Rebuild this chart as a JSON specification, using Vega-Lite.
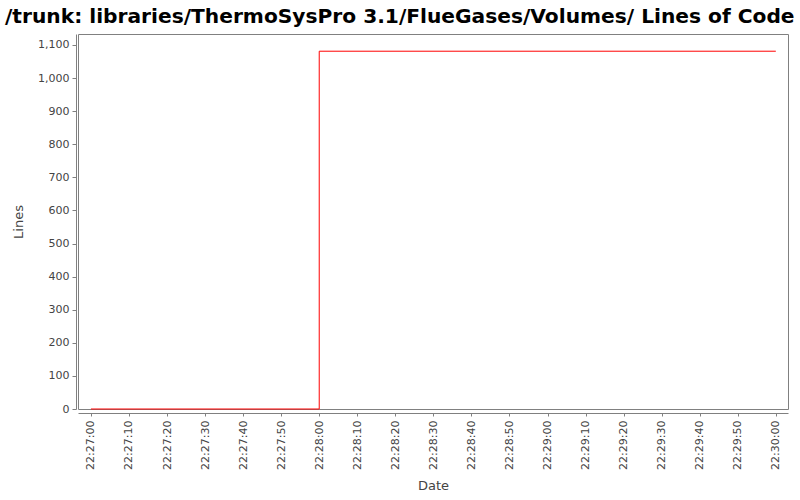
{
  "$schema": "https://vega.github.io/schema/vega-lite/v6.json",
  "autosize": "none",
  "width": 710,
  "height": 375,
  "padding": {"left": 78, "top": 34, "right": 12, "bottom": 91},
  "background": "white",
  "title": {
    "text": "/trunk: libraries/ThermoSysPro 3.1/FlueGases/Volumes/ Lines of Code",
    "font": "DejaVu Sans",
    "fontSize": 20.2,
    "fontWeight": "bold",
    "color": "#000000",
    "anchor": "start",
    "frame": "group",
    "dx": -73,
    "offset": 7
  },
  "config": {
    "view": {"stroke": "#808080", "strokeWidth": 1},
    "axis": {
      "grid": false,
      "domainColor": "#808080",
      "tickColor": "#808080",
      "labelColor": "#444444",
      "titleColor": "#444444",
      "labelFont": "DejaVu Sans",
      "titleFont": "DejaVu Sans",
      "labelFontSize": 11,
      "titleFontSize": 13,
      "titleFontWeight": "normal"
    }
  },
  "data": {
    "values": [
      {"date": "2000-01-01T22:27:00", "lines": 0},
      {"date": "2000-01-01T22:28:00", "lines": 1081},
      {"date": "2000-01-01T22:30:00", "lines": 1081}
    ]
  },
  "mark": {"type": "line", "interpolate": "step-after", "color": "#ff0000", "strokeWidth": 1},
  "encoding": {
    "x": {
      "field": "date",
      "type": "temporal",
      "scale": {
        "domain": [
          {"year": 2000, "month": 1, "date": 1, "hours": 22, "minutes": 26, "seconds": 56, "milliseconds": 600},
          {"year": 2000, "month": 1, "date": 1, "hours": 22, "minutes": 30, "seconds": 3, "milliseconds": 200}
        ],
        "nice": false
      },
      "axis": {
        "title": "Date",
        "format": "%H:%M:%S",
        "values": [
          {"year": 2000, "month": 1, "date": 1, "hours": 22, "minutes": 27, "seconds": 0},
          {"year": 2000, "month": 1, "date": 1, "hours": 22, "minutes": 27, "seconds": 10},
          {"year": 2000, "month": 1, "date": 1, "hours": 22, "minutes": 27, "seconds": 20},
          {"year": 2000, "month": 1, "date": 1, "hours": 22, "minutes": 27, "seconds": 30},
          {"year": 2000, "month": 1, "date": 1, "hours": 22, "minutes": 27, "seconds": 40},
          {"year": 2000, "month": 1, "date": 1, "hours": 22, "minutes": 27, "seconds": 50},
          {"year": 2000, "month": 1, "date": 1, "hours": 22, "minutes": 28, "seconds": 0},
          {"year": 2000, "month": 1, "date": 1, "hours": 22, "minutes": 28, "seconds": 10},
          {"year": 2000, "month": 1, "date": 1, "hours": 22, "minutes": 28, "seconds": 20},
          {"year": 2000, "month": 1, "date": 1, "hours": 22, "minutes": 28, "seconds": 30},
          {"year": 2000, "month": 1, "date": 1, "hours": 22, "minutes": 28, "seconds": 40},
          {"year": 2000, "month": 1, "date": 1, "hours": 22, "minutes": 28, "seconds": 50},
          {"year": 2000, "month": 1, "date": 1, "hours": 22, "minutes": 29, "seconds": 0},
          {"year": 2000, "month": 1, "date": 1, "hours": 22, "minutes": 29, "seconds": 10},
          {"year": 2000, "month": 1, "date": 1, "hours": 22, "minutes": 29, "seconds": 20},
          {"year": 2000, "month": 1, "date": 1, "hours": 22, "minutes": 29, "seconds": 30},
          {"year": 2000, "month": 1, "date": 1, "hours": 22, "minutes": 29, "seconds": 40},
          {"year": 2000, "month": 1, "date": 1, "hours": 22, "minutes": 29, "seconds": 50},
          {"year": 2000, "month": 1, "date": 1, "hours": 22, "minutes": 30, "seconds": 0}
        ],
        "labelAngle": 270,
        "labelAlign": "right",
        "labelBaseline": "middle",
        "offset": 4,
        "tickSize": 3,
        "labelPadding": 4,
        "titlePadding": 10,
        "labelOverlap": false
      }
    },
    "y": {
      "field": "lines",
      "type": "quantitative",
      "scale": {"domain": [0, 1133], "nice": false, "zero": false},
      "axis": {
        "title": "Lines",
        "format": ",d",
        "values": [0, 100, 200, 300, 400, 500, 600, 700, 800, 900, 1000, 1100],
        "offset": 2,
        "tickSize": 4,
        "labelPadding": 3,
        "titlePadding": 12
      }
    }
  }
}
